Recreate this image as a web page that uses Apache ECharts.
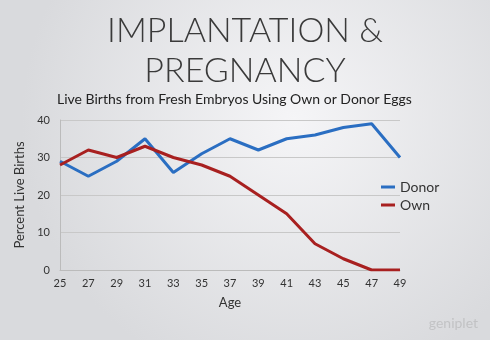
<!DOCTYPE html>
<html><head><meta charset="utf-8">
<script src="https://cdn.jsdelivr.net/npm/echarts@6/dist/echarts.min.js"></script>
<style>html,body{margin:0;padding:0;}#c{width:490px;height:340px;}</style>
</head><body><div id="c"></div>
<script>
const ages = ['25','27','29','31','33','35','37','39','41','43','45','47','49'];
const donor = [29,25,29,35,26,31,35,32,35,36,38,39,30];
const own = [28,32,30,33,30,28,25,20,15,7,3,0,0];
const yTicks = [0,10,20,30,40];

const chart = echarts.init(document.getElementById('c'));
const font = 'Lato, "Open Sans", sans-serif';
chart.setOption({
  animation:false,
  backgroundColor:{type:'radial',x:0.6,y:0.35,r:0.8,colorStops:[{offset:0,color:'#f5f5f7'},{offset:1,color:'#d9dadd'}]},
  title:[
    {text:'IMPLANTATION &\nPREGNANCY',left:'center',top:6,textStyle:{fontFamily:font,fontWeight:300,fontSize:34,lineHeight:40,color:'#3a3a3a'}},
    {text:'Live Births from Fresh Embryos Using Own or Donor Eggs',left:52,top:87,textStyle:{fontFamily:font,fontWeight:400,fontSize:14,color:'#222'}}
  ],
  legend:{orient:'vertical',left:376,top:175,itemWidth:14,itemHeight:3,itemGap:4,icon:'rect',
    textStyle:{fontFamily:font,fontSize:14,color:'#333'},data:['Donor','Own']},
  grid:{left:60,right:90,top:120,bottom:70},
  xAxis:{type:'category',data:ages,boundaryGap:false,name:'Age',nameLocation:'middle',nameGap:26,
    nameTextStyle:{fontFamily:font,fontSize:13,color:'#333'},
    axisLine:{lineStyle:{color:'#bbb'}},axisTick:{show:false},
    axisLabel:{fontFamily:font,fontSize:11,color:'#333',margin:8}},
  yAxis:{type:'value',min:yTicks[0],max:yTicks[yTicks.length-1],interval:10,name:'Percent Live Births',nameLocation:'middle',nameGap:30,
    nameTextStyle:{fontFamily:font,fontSize:13,color:'#333'},
    axisLine:{show:true,lineStyle:{color:'#bbb'}},axisTick:{show:false},
    splitLine:{lineStyle:{color:'#c8c8c8'}},
    axisLabel:{fontFamily:font,fontSize:11,color:'#333',margin:10}},
  graphic:[{type:'text',right:12,bottom:10,style:{text:'geniplet',fontFamily:font,fontSize:14,fill:'rgba(150,150,150,0.35)'}}],
  series:[
    {name:'Donor',type:'line',data:donor,symbol:'none',lineStyle:{width:3,color:'#2a6ec2'},itemStyle:{color:'#2a6ec2'}},
    {name:'Own',type:'line',data:own,symbol:'none',lineStyle:{width:3,color:'#a82020'},itemStyle:{color:'#a82020'}}
  ]
});
</script></body></html>
